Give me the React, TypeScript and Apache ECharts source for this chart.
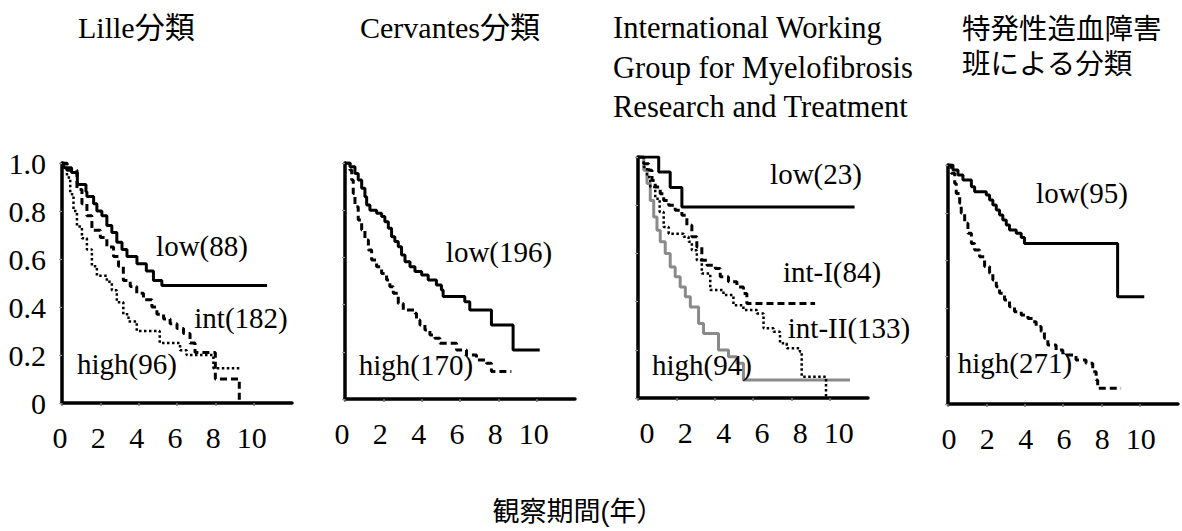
import React, { useEffect, useRef } from "react";
import * as echarts from "echarts";

const xTickValues = [0, 2, 4, 6, 8, 10];
const yTickValues = [0, 0.2, 0.4, 0.6, 0.8, 1.0];

const panelTitles = [
  ["Lille分類"],
  ["Cervantes分類"],
  ["International Working", "Group for Myelofibrosis", "Research and Treatment"],
  ["特発性造血障害", "班による分類"],
];
const xAxisTitle = "観察期間(年）";

// Panel 1: Lille
const lilleLow = [[0,1],[0.1,0.98],[0.5,0.96],[0.8,0.91],[1.25,0.88],[1.3,0.86],[1.65,0.83],[1.82,0.8],[2.08,0.78],[2.34,0.74],[2.6,0.71],[2.86,0.67],[3.13,0.64],[3.39,0.61],[3.91,0.58],[4.4,0.55],[4.77,0.51],[5.21,0.49],[10.7,0.49]];
const lilleInt = [[0,1],[0.26,0.97],[0.78,0.89],[1.04,0.83],[1.3,0.78],[1.56,0.72],[2.0,0.69],[2.34,0.65],[2.69,0.61],[2.95,0.57],[3.2,0.51],[3.56,0.485],[3.9,0.457],[4.25,0.43],[4.69,0.4],[4.95,0.37],[5.3,0.35],[5.64,0.33],[6.0,0.31],[6.34,0.29],[6.68,0.25],[6.94,0.21],[8.0,0.1],[9.25,0]];
const lilleHigh = [[0,1],[0.26,0.94],[0.43,0.87],[0.6,0.8],[0.78,0.735],[1.04,0.686],[1.3,0.64],[1.56,0.57],[1.82,0.53],[2.34,0.505],[2.6,0.47],[2.86,0.42],[3.2,0.37],[3.47,0.34],[3.9,0.3],[5.1,0.25],[6.16,0.22],[6.5,0.2],[7.9,0.145],[9.3,0.145]];

// Panel 2: Cervantes
const cervLow = [[0,1],[0.26,0.984],[0.52,0.956],[0.69,0.928],[0.87,0.893],[1.04,0.857],[1.13,0.822],[1.3,0.8],[1.65,0.787],[1.91,0.773],[2.08,0.751],[2.26,0.723],[2.43,0.688],[2.6,0.667],[2.78,0.645],[2.95,0.61],[3.13,0.582],[3.39,0.56],[3.65,0.54],[4.0,0.525],[4.34,0.504],[4.77,0.483],[5.03,0.462],[5.12,0.434],[6.25,0.412],[6.51,0.377],[7.64,0.314],[8.77,0.208],[10.16,0.208]];
const cervHigh = [[0,1],[0.26,0.97],[0.35,0.928],[0.43,0.871],[0.52,0.815],[0.69,0.758],[0.87,0.716],[1.04,0.674],[1.22,0.631],[1.39,0.589],[1.65,0.56],[1.91,0.532],[2.17,0.504],[2.34,0.476],[2.52,0.448],[2.78,0.405],[3.04,0.377],[3.65,0.363],[3.73,0.335],[3.91,0.314],[4.17,0.292],[4.43,0.271],[4.69,0.257],[4.95,0.236],[5.82,0.208],[6.34,0.186],[6.86,0.165],[7.38,0.151],[7.64,0.116],[8.68,0.116]];

// Panel 3: IWG-MRT
const iwgLow = [[0,1],[1.08,0.938],[1.68,0.873],[2.29,0.793],[11.3,0.793]];
const iwgInt1 = [[0,1],[0.3,0.972],[0.56,0.945],[0.73,0.903],[0.9,0.876],[1.16,0.848],[1.34,0.82],[1.6,0.8],[1.94,0.779],[2.29,0.758],[2.55,0.717],[2.81,0.669],[3.07,0.627],[3.33,0.572],[3.6,0.551],[4.03,0.537],[4.29,0.503],[4.72,0.482],[5.16,0.461],[5.5,0.434],[5.68,0.392],[9.24,0.392]];
const iwgInt2 = [[0,1],[0.3,0.959],[0.47,0.917],[0.64,0.876],[0.9,0.827],[1.13,0.772],[1.34,0.71],[1.6,0.682],[2.38,0.669],[2.64,0.648],[2.81,0.613],[3.07,0.572],[3.33,0.517],[3.77,0.448],[4.46,0.427],[4.98,0.385],[5.5,0.365],[6.2,0.351],[6.55,0.289],[7.07,0.275],[7.41,0.227],[7.76,0.206],[8.45,0.192],[8.54,0.088],[9.81,0]];
const iwgHigh = [[0,1],[0.3,0.945],[0.47,0.89],[0.64,0.82],[0.82,0.751],[0.99,0.696],[1.16,0.648],[1.42,0.6],[1.68,0.544],[1.94,0.503],[2.2,0.461],[2.47,0.42],[2.73,0.378],[3.16,0.309],[3.42,0.268],[4.2,0.199],[4.72,0.171],[5.16,0.144],[5.5,0.075],[11.06,0.075]];

// Panel 4: 特発性造血障害班
const tokLow = [[0,1],[0.26,0.979],[0.52,0.958],[0.78,0.937],[1.22,0.909],[1.39,0.888],[2.0,0.874],[2.17,0.854],[2.34,0.833],[2.52,0.812],[2.69,0.791],[2.86,0.77],[3.04,0.749],[3.21,0.728],[3.56,0.714],[3.82,0.697],[3.99,0.672],[8.85,0.449],[10.24,0.449]];
const tokHigh = [[0,1],[0.17,0.965],[0.35,0.923],[0.43,0.881],[0.61,0.84],[0.69,0.798],[0.87,0.756],[1.04,0.714],[1.22,0.672],[1.39,0.644],[1.65,0.616],[1.91,0.575],[2.17,0.547],[2.34,0.519],[2.52,0.491],[2.69,0.463],[2.95,0.435],[3.21,0.407],[3.47,0.386],[3.82,0.372],[4.17,0.358],[4.43,0.344],[4.6,0.324],[4.86,0.303],[5.03,0.275],[5.21,0.247],[5.64,0.226],[5.99,0.205],[6.68,0.184],[7.2,0.17],[7.55,0.135],[7.73,0.1],[7.81,0.066],[9.03,0.066]];

const SERIF = "'Liberation Serif', 'Noto Sans CJK JP', serif";
const CJK = "'Liberation Sans', 'Noto Sans CJK JP', sans-serif";

type Curve = { name: string; data: number[][]; style: "solid" | "dashed" | "dotted" | "gray" };
type Panel = {
  grid: { left: number; top: number; width: number; height: number };
  yLabels: boolean;
  xLabelShift: number;
  curves: Curve[];
  labels: { text: string; x: number; y: number }[];
};

const panels: Panel[] = [
  {
    grid: { left: 62, top: 163, width: 230, height: 240 },
    yLabels: true,
    xLabelShift: -2,
    curves: [
      { name: "low(88)", data: lilleLow, style: "solid" },
      { name: "int(182)", data: lilleInt, style: "dashed" },
      { name: "high(96)", data: lilleHigh, style: "dotted" },
    ],
    labels: [
      { text: "low(88)", x: 202, y: 246 },
      { text: "int(182)", x: 241, y: 318 },
      { text: "high(96)", x: 127, y: 364 },
    ],
  },
  {
    grid: { left: 345, top: 163, width: 230, height: 236 },
    yLabels: false,
    xLabelShift: -3,
    curves: [
      { name: "low(196)", data: cervLow, style: "solid" },
      { name: "high(170)", data: cervHigh, style: "dashed" },
    ],
    labels: [
      { text: "low(196)", x: 499, y: 252 },
      { text: "high(170)", x: 416, y: 365 },
    ],
  },
  {
    grid: { left: 638, top: 157, width: 230, height: 241 },
    yLabels: false,
    xLabelShift: 9,
    curves: [
      { name: "low(23)", data: iwgLow, style: "solid" },
      { name: "int-I(84)", data: iwgInt1, style: "dashed" },
      { name: "int-II(133)", data: iwgInt2, style: "dotted" },
      { name: "high(94)", data: iwgHigh, style: "gray" },
    ],
    labels: [
      { text: "low(23)", x: 816, y: 174 },
      { text: "int-I(84)", x: 832, y: 272 },
      { text: "int-II(133)", x: 849, y: 328 },
      { text: "high(94)", x: 702, y: 365 },
    ],
  },
  {
    grid: { left: 948, top: 165, width: 230, height: 239 },
    yLabels: false,
    xLabelShift: 1,
    curves: [
      { name: "low(95)", data: tokLow, style: "solid" },
      { name: "high(271)", data: tokHigh, style: "dashed" },
    ],
    labels: [
      { text: "low(95)", x: 1082, y: 193 },
      { text: "high(271)", x: 1015, y: 363 },
    ],
  },
];

function kmSteps(pts: number[][]): number[][] {
  const out: number[][] = [];
  for (let i = 0; i < pts.length; i++) {
    if (i > 0) out.push([pts[i][0], pts[i - 1][1]]);
    out.push(pts[i]);
  }
  return out;
}

function lineStyleFor(s: Curve["style"]) {
  switch (s) {
    case "solid":
      return { color: "#000", width: 3, type: "solid" as any };
    case "dashed":
      return { color: "#000", width: 3, type: [7, 4] as any };
    case "dotted":
      return { color: "#000", width: 2.5, type: [2.5, 2.5] as any };
    default:
      return { color: "#8a8a8a", width: 3, type: "solid" as any };
  }
}

export default function App() {
  const ref = useRef<HTMLDivElement>(null);
  useEffect(() => {
    if (!ref.current) return;
    const chart = echarts.init(ref.current, undefined, { renderer: "svg" });

    const grids = panels.map((p) => ({ ...p.grid, containLabel: false }));
    const xAxes = panels.map((p, i) => ({
      type: "value",
      gridIndex: i,
      min: 0,
      max: 12,
      interval: 2,
      axisLine: { show: true, onZero: true, lineStyle: { color: "#000", width: 3.5 } },
      axisTick: { show: true, length: 3, customValues: xTickValues, lineStyle: { color: "#777", width: 1.5 } },
      splitLine: { show: false },
      axisLabel: {
        show: true,
        customValues: xTickValues,
        margin: 19,
        color: "#000",
        fontFamily: SERIF,
        fontSize: 30,
        padding: p.xLabelShift >= 0 ? [0, 0, 0, p.xLabelShift * 2] : [0, -p.xLabelShift * 2, 0, 0],
        formatter: (v: number) => String(v),
      },
    }));
    const yAxes = panels.map((p, i) => ({
      type: "value",
      gridIndex: i,
      min: 0,
      max: 1,
      interval: 0.2,
      axisLine: { show: true, onZero: true, lineStyle: { color: "#000", width: 3.5 } },
      axisTick: { show: true, length: 3, customValues: yTickValues, lineStyle: { color: "#999", width: 1.2 } },
      splitLine: { show: false },
      axisLabel: {
        show: p.yLabels,
        customValues: yTickValues,
        margin: 16,
        color: "#000",
        fontFamily: SERIF,
        fontSize: 30,
        padding: [8, 0, 0, 0],
        formatter: (v: number) => (v === 0 ? "0" : v.toFixed(1)),
      },
    }));

    const series: any[] = [];
    panels.forEach((p, i) => {
      p.curves.forEach((c) => {
        series.push({
          type: "line",
          name: c.name,
          xAxisIndex: i,
          yAxisIndex: i,
          data: kmSteps(c.data),
          showSymbol: false,
          symbol: "none",
          silent: true,
          lineStyle: lineStyleFor(c.style),
          z: c.style === "gray" ? 1 : 2,
        });
      });
    });

    const graphics: any[] = [];
    const titlePos = [
      { x: 78, y: 27, lh: 0, font: SERIF, size: 30 },
      { x: 360, y: 27, lh: 0, font: SERIF, size: 30 },
      { x: 613, y: 28, lh: 39.5, font: SERIF, size: 30.5 },
      { x: 962, y: 29, lh: 35, font: CJK, size: 28.5 },
    ];
    panelTitles.forEach((lines, i) => {
      const tp = titlePos[i];
      lines.forEach((t, j) => {
        graphics.push({
          type: "text",
          x: tp.x,
          y: tp.y + j * tp.lh,
          silent: true,
          style: {
            text: t,
            fill: "#000",
            fontFamily: tp.font,
            fontSize: tp.size,
            align: "left",
            verticalAlign: "middle",
          },
        });
      });
    });
    panels.forEach((p) => {
      p.labels.forEach((l) => {
        graphics.push({
          type: "text",
          x: l.x,
          y: l.y,
          silent: true,
          z: 10,
          style: {
            text: l.text,
            fill: "#000",
            fontFamily: SERIF,
            fontSize: 29,
            align: "center",
            verticalAlign: "middle",
          },
        });
      });
    });
    graphics.push({
      type: "text",
      x: 578,
      y: 512,
      silent: true,
      style: {
        text: xAxisTitle,
        fill: "#000",
        fontFamily: CJK,
        fontSize: 27,
        align: "center",
        verticalAlign: "middle",
      },
    });

    chart.setOption({
      animation: false,
      backgroundColor: "#fff",
      grid: grids,
      xAxis: xAxes,
      yAxis: yAxes,
      series,
      graphic: graphics,
    });
    return () => chart.dispose();
  }, []);
  return (
    <div
      ref={ref}
      style={{ position: "absolute", left: 0, top: 0, width: 1182, height: 531 }}
    />
  );
}
